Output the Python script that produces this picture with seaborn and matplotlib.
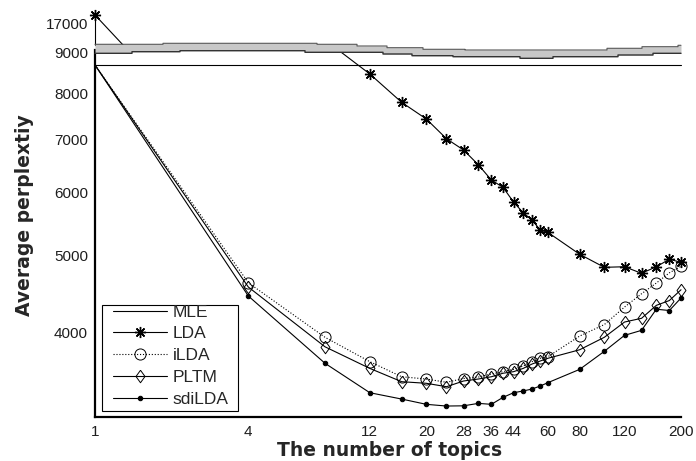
import numpy as np
import pandas as pd
import matplotlib
matplotlib.use("Agg")
import matplotlib.pyplot as plt
from matplotlib.patches import Rectangle
from matplotlib.ticker import FixedLocator, NullLocator, FixedFormatter
from matplotlib.transforms import Bbox, TransformedBbox
import seaborn as sns

# ---- data -------------------------------------------------------------
topics = [1, 4, 8, 12, 16, 20, 24, 28, 32, 36, 40, 44, 48, 52, 56, 60,
          80, 100, 120, 140, 160, 180, 200]
mle = [8676, 8676, 8676, 8676, 8676, 8676, 8676, 8676, 8676, 8676, 8676, 8676,
       8676, 8676, 8676, 8676, 8676, 8676, 8676, 8676, 8676, 8676, 8676]
lda = [17400, 10000, 9330, 8453, 7787, 7419, 7007, 6782, 6498, 6217, 6087, 5833,
       5654, 5536, 5379, 5342, 5013, 4827, 4835, 4744, 4835, 4941, 4898]
ilda = [8676, 4616, 3941, 3672, 3515, 3492, 3459, 3497, 3512, 3543, 3567, 3591,
        3626, 3672, 3708, 3725, 3955, 4089, 4302, 4471, 4612, 4750, 4842]
pltm = [8676, 4559, 3834, 3601, 3465, 3449, 3415, 3472, 3492, 3515, 3551, 3567,
        3601, 3647, 3679, 3708, 3801, 3941, 4119, 4164, 4323, 4384, 4523]
sdilda = [8676, 4442, 3655, 3356, 3295, 3245, 3229, 3231, 3254, 3245, 3311, 3356,
          3373, 3392, 3422, 3455, 3591, 3784, 3963, 4021, 4275, 4259, 4416]

xtick_labeled = [1, 4, 12, 20, 28, 36, 44, 60, 80, 120, 200]
ytick_low = [4000, 5000, 6000, 7000, 8000, 9000]
ytick_high = [17000]

df = pd.DataFrame({"topics": topics, "MLE": mle, "LDA": lda, "iLDA": ilda,
                   "PLTM": pltm, "sdiLDA": sdilda})

# ---- style -------------------------------------------------------------
sns.set_style("white")
plt.rcParams["font.family"] = ["Liberation Sans", "DejaVu Sans"]

W, H = 696, 461
fig = plt.figure(figsize=(W / 100, H / 100), dpi=100)


def fig_rect(x0, y0, x1, y1):
    """Pixel box (top-left origin) -> figure fraction rect."""
    return [x0 / W, 1 - y1 / H, (x1 - x0) / W, (y1 - y0) / H]


LOW = (95, 50, 681, 417)
ax_low = fig.add_axes(fig_rect(*LOW))
ax_up = fig.add_axes(fig_rect(95, 12, 681, 45))


def low_axes_xy(px, py):
    """Pixel position -> lower-axes fraction."""
    x0, y0, x1, y1 = LOW
    return (px - x0) / (x1 - x0), (y1 - py) / (y1 - y0)


# markers start from the second point for the curves sharing the K=1 origin
skip_first = list(range(1, len(topics)))
diamond = [(0, 1), (0.72, 0), (0, -1), (-0.72, 0), (0, 1)]
series = [
    ("MLE", dict(marker=None, linestyle="-")),
    ("LDA", dict(marker=(8, 2, 0), markersize=8, markeredgewidth=1.0,
                 markeredgecolor="black", linestyle="-")),
    ("iLDA", dict(marker="o", markersize=8, markerfacecolor="none",
                  markeredgecolor="black", markeredgewidth=0.7, linestyle=":",
                  markevery=skip_first)),
    ("PLTM", dict(marker=diamond, markersize=9, markerfacecolor="none",
                  markeredgecolor="black", markeredgewidth=0.7, linestyle="-",
                  markevery=skip_first)),
    ("sdiLDA", dict(marker="o", markersize=3.2, markerfacecolor="black",
                    markeredgecolor="black", linestyle="-",
                    markevery=skip_first)),
]

handles = []
for ax in (ax_low, ax_up):
    for name, kw in series:
        sns.lineplot(data=df, x="topics", y=name, ax=ax, color="black",
                     linewidth=0.8, label=name, legend=False, **kw)
        line = ax.get_lines()[-1]
        # clip vertically to the panel, but let edge markers show in full
        top = 1.0 if ax is ax_low else 1.6
        line.set_clip_box(TransformedBbox(Bbox([[-0.05, 0.0], [1.05, top]]),
                                          ax.transAxes))
        if ax is ax_low:
            handles.append(line)

for ax in (ax_low, ax_up):
    ax.set_xscale("log")
    ax.set_yscale("log" if ax is ax_low else "linear")
    ax.set_xlim(1, 200)
    ax.xaxis.set_minor_locator(NullLocator())
    ax.yaxis.set_minor_locator(NullLocator())
    ax.set_xlabel("")
    ax.set_ylabel("")
    ax.patch.set_alpha(0)
    for s in ax.spines.values():
        s.set_visible(False)

# lower panel
ax_low.set_ylim(3128, 9062)
ax_low.xaxis.set_major_locator(FixedLocator(topics))
ax_low.xaxis.set_major_formatter(FixedFormatter(
    [str(t) if t in xtick_labeled else "" for t in topics]))
ax_low.yaxis.set_major_locator(FixedLocator(ytick_low))
ax_low.yaxis.set_major_formatter(FixedFormatter([str(v) for v in ytick_low]))
for side in ("left", "bottom"):
    ax_low.spines[side].set_visible(True)
    ax_low.spines[side].set_linewidth(1.6)
    ax_low.spines[side].set_color("black")
ax_low.tick_params(axis="both", direction="in", length=4, width=0.9,
                   labelsize=11, labelcolor="#1e1e1e", color="black", pad=5)
ax_low.tick_params(axis="x", pad=6)

# upper panel (compressed range above the break)
ax_up.set_ylim(16046, 17535)
ax_up.set_xticks([])
ax_up.yaxis.set_major_locator(FixedLocator(ytick_high))
ax_up.yaxis.set_major_formatter(FixedFormatter([str(v) for v in ytick_high]))
ax_up.spines["left"].set_visible(True)
ax_up.spines["left"].set_linewidth(0.8)
ax_up.spines["left"].set_color("black")
ax_up.tick_params(axis="y", direction="in", length=4, width=0.8,
                  labelsize=11, labelcolor="#1e1e1e", pad=5)

# legend: entries plus a plain rectangular frame around them
leg = ax_low.legend(handles=handles, labels=[s[0] for s in series],
                    loc="upper left", bbox_to_anchor=low_axes_xy(113, 304.5),
                    borderaxespad=0, borderpad=0, frameon=False, fontsize=12.5,
                    handlelength=3.1, handletextpad=0.35, labelspacing=0.38)
leg.set_zorder(6)
fx, fy = low_axes_xy(102, 411)
fx1, fy1 = low_axes_xy(238, 305)
ax_low.add_patch(Rectangle((fx, fy), fx1 - fx, fy1 - fy, transform=ax_low.transAxes,
                           facecolor="white", edgecolor="black", linewidth=0.8,
                           zorder=5))

# axis break band drawn across the plot between the two panels
band = fig.add_axes([0, 0, 1, 1], zorder=10)
band.set_xlim(0, W)
band.set_ylim(H, 0)
band.axis("off")
band.patch.set_alpha(0)
top_x = [95, 163, 317, 357, 387, 423, 465, 607, 642, 678, 681]
top_y = [44.3, 43.3, 44.3, 46.0, 47.7, 49.3, 50.0, 48.3, 46.7, 45.3, 45.3]
bot_x = [95, 132, 180, 305, 383, 412, 453, 520, 553, 618, 653, 681]
bot_y = [53.3, 51.7, 50.7, 52.3, 54.0, 55.7, 56.7, 58.3, 56.7, 55.0, 53.3, 53.3]
xx = np.arange(95, 682)
t_y = np.array(top_y)[np.searchsorted(top_x, xx, side="right") - 1]
b_y = np.array(bot_y)[np.searchsorted(bot_x, xx, side="right") - 1]
band.fill_between(xx, t_y, b_y, color="#c8c8c8", linewidth=0)
band.plot(xx, t_y, color="#555555", linewidth=0.8, drawstyle="steps-post")
band.plot(xx, b_y, color="#333333", linewidth=1.0, drawstyle="steps-post")

# axis titles
fig.text(390 / W, 1 - 450 / H, "The number of topics", ha="center", va="center",
         fontsize=13.5, fontweight="bold", family="DejaVu Sans")
fig.text(25 / W, 1 - 215 / H, "Average perplextiy", ha="center", va="center",
         rotation=90, fontsize=13.5, fontweight="bold", family="DejaVu Sans")

fig.savefig("out.png", dpi=100)
